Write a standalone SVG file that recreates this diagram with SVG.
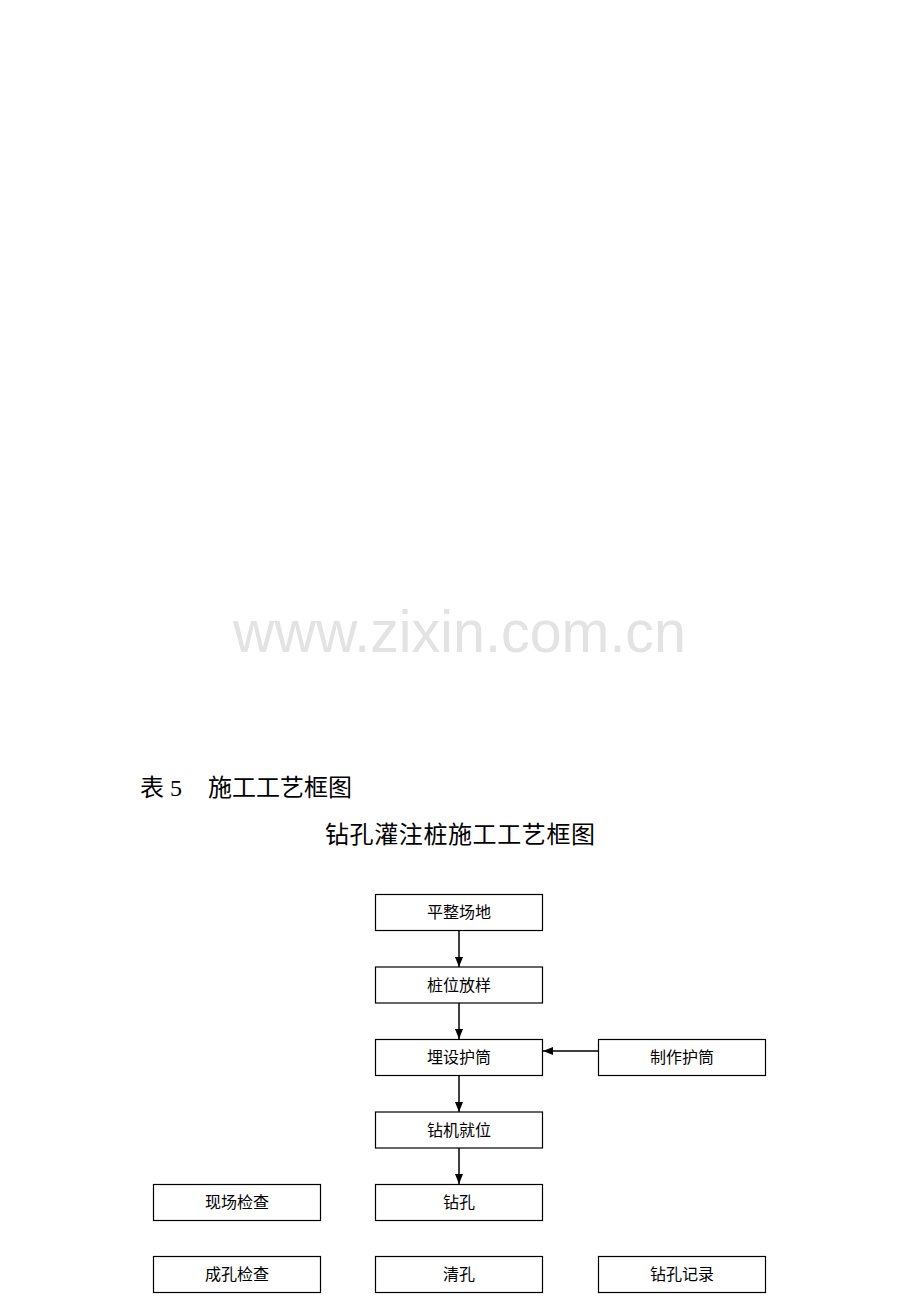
<svg xmlns="http://www.w3.org/2000/svg" width="920" height="1302" viewBox="0 0 920 1302">
<defs>
<style>
.box{fill:#fff;stroke:#000;stroke-width:1.2}
.lbl{font-family:"Liberation Serif","Noto Sans CJK SC",serif;font-size:16px;fill:#000;text-anchor:middle;dominant-baseline:central}
.ttl{font-family:"Liberation Serif","Noto Sans CJK SC",serif;font-size:24px;fill:#000}
.edge{stroke:#000;stroke-width:1.5;fill:none;marker-end:url(#ah)}
</style>
<marker id="ah" viewBox="0 0 10 10" refX="10" refY="5" markerWidth="10" markerHeight="10" markerUnits="userSpaceOnUse" orient="auto">
<path d="M0,1 L10,5 L0,9 Z" fill="#000"/>
</marker>
</defs>
<rect width="920" height="1302" fill="#fff"/>
<text x="233" y="652" font-family="Liberation Sans, Arial, sans-serif" font-size="59" fill="#e3e3e3" textLength="453" lengthAdjust="spacingAndGlyphs">www.zixin.com.cn</text>
<text class="ttl" x="140" y="796">表 5</text>
<text class="ttl" x="208" y="796">施工工艺框图</text>
<text class="ttl" x="325" y="843" textLength="270" lengthAdjust="spacing">钻孔灌注桩施工工艺框图</text>
<g id="connectors">
<line class="edge" x1="459" y1="930" x2="459" y2="967"/>
<line class="edge" x1="459" y1="1003" x2="459" y2="1039"/>
<line class="edge" x1="459" y1="1075" x2="459" y2="1112"/>
<line class="edge" x1="459" y1="1148" x2="459" y2="1184"/>
<line class="edge" x1="598" y1="1051" x2="543" y2="1051"/>
</g>
<g id="n1"><rect class="box" x="375.5" y="894.5" width="167" height="36"/><text class="lbl" x="459" y="912.5">平整场地</text></g>
<g id="n2"><rect class="box" x="375.5" y="967" width="167" height="36"/><text class="lbl" x="459" y="985">桩位放样</text></g>
<g id="n3"><rect class="box" x="375.5" y="1039.5" width="167" height="36"/><text class="lbl" x="459" y="1057.5">埋设护筒</text></g>
<g id="n3b"><rect class="box" x="598.5" y="1039.5" width="167" height="36"/><text class="lbl" x="682" y="1057.5">制作护筒</text></g>
<g id="n4"><rect class="box" x="375.5" y="1112" width="167" height="36"/><text class="lbl" x="459" y="1130">钻机就位</text></g>
<g id="n5"><rect class="box" x="375.5" y="1184.5" width="167" height="36"/><text class="lbl" x="459" y="1202.5">钻孔</text></g>
<g id="n5l"><rect class="box" x="153.5" y="1184.5" width="167" height="36"/><text class="lbl" x="237" y="1202.5">现场检查</text></g>
<g id="n6"><rect class="box" x="375.5" y="1256.5" width="167" height="36"/><text class="lbl" x="459" y="1274.5">清孔</text></g>
<g id="n6l"><rect class="box" x="153.5" y="1256.5" width="167" height="36"/><text class="lbl" x="237" y="1274.5">成孔检查</text></g>
<g id="n6r"><rect class="box" x="598.5" y="1256.5" width="167" height="36"/><text class="lbl" x="682" y="1274.5">钻孔记录</text></g>
</svg>
